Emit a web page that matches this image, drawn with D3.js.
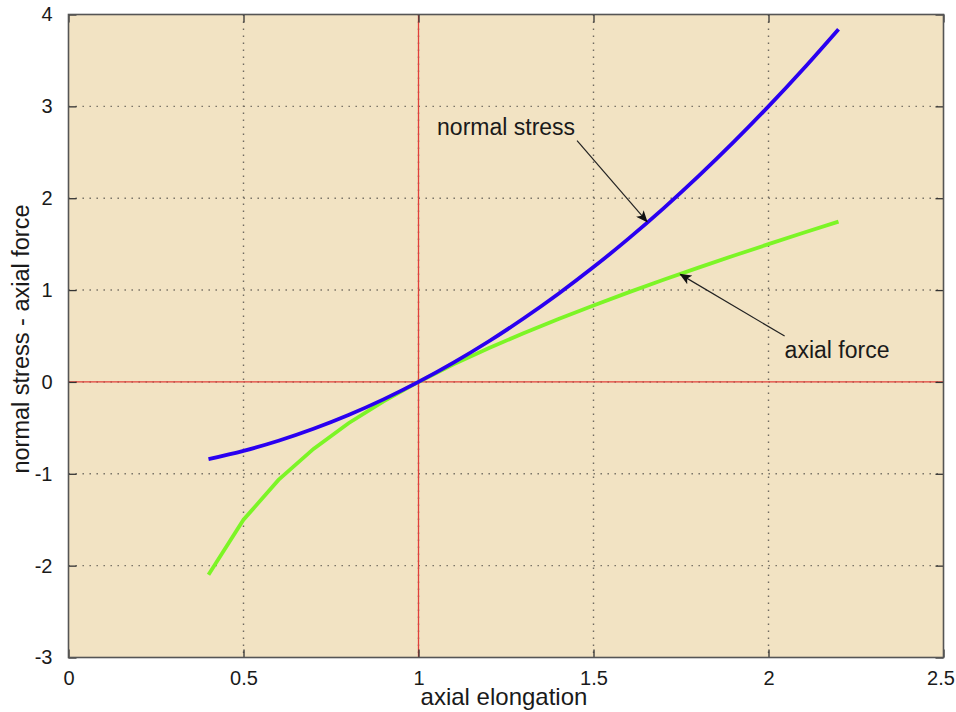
<!DOCTYPE html>
<html>
<head>
<meta charset="utf-8">
<script src="https://cdn.jsdelivr.net/npm/d3@7"></script>
<style>
  body { margin: 0; background: #fff; }
  text { font-family: "Liberation Sans", Arial, sans-serif; fill: #1a1a1a; }
</style>
</head>
<body>
<script>
// axial elongation (stretch) values
var stretch = [0.4, 0.5, 0.6, 0.7, 0.8, 0.9, 1.0, 1.1, 1.2, 1.3, 1.4, 1.5, 1.6, 1.7, 1.8, 1.9, 2.0, 2.1, 2.2]
// values
var normalStress = [-0.84, -0.75, -0.64, -0.51, -0.36, -0.19, 0, 0.21, 0.44, 0.69, 0.96, 1.25, 1.56, 1.89, 2.24, 2.61, 3.0, 3.41, 3.84]
var axialForce = [-2.1, -1.5, -1.067, -0.729, -0.45, -0.211, 0, 0.191, 0.367, 0.531, 0.686, 0.833, 0.975, 1.112, 1.244, 1.374, 1.5, 1.624, 1.745]

var xTicks = [0, 0.5, 1, 1.5, 2, 2.5]
var yTicks = [-3, -2, -1, 0, 1, 2, 3, 4]

// label text, text anchor (data), arrow tail (data), arrow tip (data)
var notes = [
  {label: "normal stress", tx: 1.053, ty: 2.688, x0: 1.453, y0: 2.626, x1: 1.653, y1: 1.744},
  {label: "axial force",   tx: 2.046, ty: 0.256, x0: 2.046, y0: 0.499, x1: 1.748, y1: 1.171}
]

var width = 956, height = 712
var margin = {left: 68.5, right: 12.5, top: 14.5, bottom: 54.5}
var iw = width - margin.left - margin.right
var ih = height - margin.top - margin.bottom

var svg = d3.select("body").append("svg")
    .attr("width", width)
    .attr("height", height)

var x = d3.scaleLinear().domain([0, 2.5]).range([0, iw])
var y = d3.scaleLinear().domain([-3, 4]).range([ih, 0])

var g = svg.append("g").attr("transform", "translate(" + margin.left + "," + margin.top + ")")

g.append("rect")
    .attr("width", iw).attr("height", ih)
    .attr("fill", "#f2e3c3")

// dotted grid
g.append("g").selectAll("line")
    .data(xTicks.slice(1, -1))
    .enter().append("line")
    .attr("x1", d => x(d)).attr("x2", d => x(d))
    .attr("y1", 0).attr("y2", ih)
    .attr("stroke", "#6f6a60").attr("stroke-width", 1.4)
    .attr("stroke-dasharray", "1.4,5.6")

g.append("g").selectAll("line")
    .data(yTicks.slice(1, -1))
    .enter().append("line")
    .attr("y1", d => y(d)).attr("y2", d => y(d))
    .attr("x1", 0).attr("x2", iw)
    .attr("stroke", "#6f6a60").attr("stroke-width", 1.4)
    .attr("stroke-dasharray", "1.4,5.6")

// red reference lines
g.append("line")
    .attr("x1", x(1)).attr("x2", x(1)).attr("y1", 0).attr("y2", ih)
    .attr("stroke", "#e0403a").attr("stroke-width", 1.3)
g.append("line")
    .attr("x1", 0).attr("x2", iw).attr("y1", y(0)).attr("y2", y(0))
    .attr("stroke", "#e0403a").attr("stroke-width", 1.3)

// curves
var forceLine = d3.line()
    .x((d, i) => x(stretch[i]))
    .y(d => y(d))
var stressLine = d3.line()
    .x((d, i) => x(stretch[i]))
    .y(d => y(d))
    .curve(d3.curveMonotoneX)

g.append("path")
    .attr("d", forceLine(axialForce))
    .attr("fill", "none").attr("stroke", "#7cf526").attr("stroke-width", 3.8)
g.append("path")
    .attr("d", stressLine(normalStress))
    .attr("fill", "none").attr("stroke", "#2a00f0").attr("stroke-width", 3.8)

// axes with inward ticks
var fmt = d => String(d)
var axB = g.append("g").attr("transform", "translate(0," + ih + ")")
    .call(d3.axisBottom(x).tickValues(xTicks).tickSize(-8).tickPadding(13).tickFormat(fmt))
var axT = g.append("g")
    .call(d3.axisTop(x).tickValues(xTicks).tickSize(-8).tickFormat(""))
var axL = g.append("g")
    .call(d3.axisLeft(y).tickValues(yTicks).tickSize(-8).tickPadding(14).tickFormat(fmt))
var axR = g.append("g").attr("transform", "translate(" + iw + ",0)")
    .call(d3.axisRight(y).tickValues(yTicks).tickSize(-8).tickFormat(""))

;[axB, axT, axL, axR].forEach(function(a) {
  a.attr("font-size", null).attr("font-family", null)
  a.select(".domain").remove()
  a.selectAll(".tick line").attr("stroke", "#333").attr("stroke-width", 1.3)
  a.selectAll("text").style("font-size", "20px").attr("fill", "#1a1a1a")
})
axL.selectAll("text").attr("dx", "-2")
// keep the last x label inside the page
axB.selectAll(".tick text").filter(d => d === 2.5).attr("dx", "-3")

g.append("rect")
    .attr("width", iw).attr("height", ih)
    .attr("fill", "none").attr("stroke", "#555").attr("stroke-width", 1.6)

// axis titles
svg.append("text")
    .attr("x", margin.left + x(1.25) - 2).attr("y", 705)
    .attr("text-anchor", "middle")
    .style("font-size", "24px")
    .text("axial elongation")
svg.append("text")
    .attr("transform", "translate(29," + (margin.top + ih / 2 + 3) + ") rotate(-90)")
    .attr("text-anchor", "middle")
    .style("font-size", "23.5px")
    .text("normal stress - axial force")

// annotations with arrows
svg.append("defs").append("marker")
    .attr("id", "head")
    .attr("viewBox", "0 0 12 10")
    .attr("refX", 11).attr("refY", 5)
    .attr("markerWidth", 13).attr("markerHeight", 10)
    .attr("markerUnits", "userSpaceOnUse")
    .attr("orient", "auto")
  .append("path")
    .attr("d", "M0,0 L12,5 L0,10 L3,5 Z")
    .attr("fill", "#111")

var ann = g.append("g").selectAll("g").data(notes).enter().append("g")
ann.append("line")
    .attr("x1", d => x(d.x0)).attr("y1", d => y(d.y0))
    .attr("x2", d => x(d.x1)).attr("y2", d => y(d.y1))
    .attr("stroke", "#222").attr("stroke-width", 1.2)
    .attr("marker-end", "url(#head)")
ann.append("text")
    .attr("x", d => x(d.tx)).attr("y", d => y(d.ty))
    .style("font-size", "23px")
    .text(d => d.label)
</script>
</body>
</html>
